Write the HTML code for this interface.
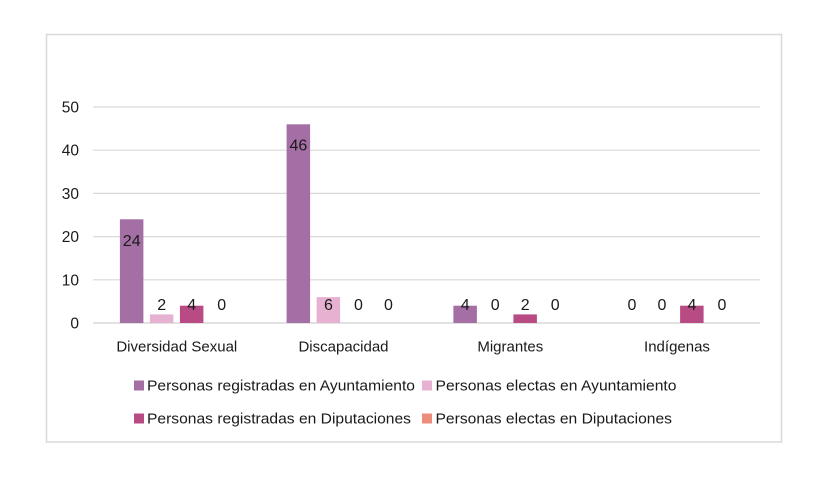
<!DOCTYPE html>
<html>
<head>
<meta charset="utf-8">
<style>
  html, body { margin:0; padding:0; background:#ffffff; }
  body { width:826px; height:493px; overflow:hidden; }
  svg { display:block; }
  text { font-family: "Liberation Sans", "DejaVu Sans", sans-serif; fill:#1a1a1a; }
</style>
</head>
<body>
<svg width="826" height="493" viewBox="0 0 826 493" xmlns="http://www.w3.org/2000/svg">
  <rect x="0" y="0" width="826" height="493" fill="#ffffff"/>
  <!-- chart border -->
  <rect x="46.5" y="34.5" width="735" height="407.5" fill="none" stroke="#d9d9d9" stroke-width="1.5"/>

  <!-- gridlines -->
  <g stroke="#d9d9d9" stroke-width="1.2">
    <line x1="93" y1="107" x2="760" y2="107"/>
    <line x1="93" y1="150.2" x2="760" y2="150.2"/>
    <line x1="93" y1="193.4" x2="760" y2="193.4"/>
    <line x1="93" y1="236.6" x2="760" y2="236.6"/>
    <line x1="93" y1="279.8" x2="760" y2="279.8"/>
    <line x1="93" y1="323" x2="760" y2="323" stroke-width="1.5"/>
  </g>

  <!-- y tick labels -->
  <g font-size="15.5" text-anchor="end">
    <text x="79" y="112.5">50</text>
    <text x="79" y="155.7">40</text>
    <text x="79" y="198.9">30</text>
    <text x="79" y="242.1">20</text>
    <text x="79" y="285.3">10</text>
    <text x="79" y="328.5">0</text>
  </g>

  <!-- bars: Diversidad Sexual (c=176.4) -->
  <rect x="119.9" y="219.3" width="23.5" height="103.7" fill="#a46fa5"/>
  <rect x="149.9" y="314.4" width="23.5" height="8.6" fill="#e7b1d2"/>
  <rect x="179.9" y="305.7" width="23.5" height="17.3" fill="#b84b84"/>
  <!-- Discapacidad (c=343.1) -->
  <rect x="286.6" y="124.3" width="23.5" height="198.7" fill="#a46fa5"/>
  <rect x="316.6" y="297.1" width="23.5" height="25.9" fill="#e7b1d2"/>
  <!-- Migrantes (c=509.9) -->
  <rect x="453.4" y="305.7" width="23.5" height="17.3" fill="#a46fa5"/>
  <rect x="513.4" y="314.4" width="23.5" height="8.6" fill="#b84b84"/>
  <!-- Indigenas (c=676.6) -->
  <rect x="680.1" y="305.7" width="23.5" height="17.3" fill="#b84b84"/>

  <!-- data labels -->
  <g font-size="16" text-anchor="middle">
    <text x="131.7" y="246">24</text>
    <text x="161.7" y="310">2</text>
    <text x="191.7" y="310">4</text>
    <text x="221.7" y="310">0</text>

    <text x="298.4" y="150.5">46</text>
    <text x="328.4" y="310">6</text>
    <text x="358.4" y="310">0</text>
    <text x="388.4" y="310">0</text>

    <text x="465.2" y="310">4</text>
    <text x="495.2" y="310">0</text>
    <text x="525.2" y="310">2</text>
    <text x="555.2" y="310">0</text>

    <text x="631.9" y="310">0</text>
    <text x="661.9" y="310">0</text>
    <text x="691.9" y="310">4</text>
    <text x="721.9" y="310">0</text>
  </g>

  <!-- category labels -->
  <g font-size="15" text-anchor="middle">
    <text x="176.8" y="351.5">Diversidad Sexual</text>
    <text x="343.5" y="351.5">Discapacidad</text>
    <text x="510.3" y="351.5">Migrantes</text>
    <text x="677" y="351.5">Indígenas</text>
  </g>

  <!-- legend -->
  <rect x="134" y="380.5" width="10" height="10" fill="#a46fa5"/>
  <text x="147" y="390.5" font-size="15" textLength="268" lengthAdjust="spacingAndGlyphs">Personas registradas en Ayuntamiento</text>
  <rect x="422" y="380.5" width="10" height="10" fill="#e7b1d2"/>
  <text x="435.5" y="390.5" font-size="15" textLength="241" lengthAdjust="spacingAndGlyphs">Personas electas en Ayuntamiento</text>

  <rect x="134" y="413.5" width="10" height="10" fill="#b84b84"/>
  <text x="147" y="423.5" font-size="15" textLength="264" lengthAdjust="spacingAndGlyphs">Personas registradas en Diputaciones</text>
  <rect x="422" y="413.5" width="10" height="10" fill="#ec8c7a"/>
  <text x="435.5" y="423.5" font-size="15" textLength="236.5" lengthAdjust="spacingAndGlyphs">Personas electas en Diputaciones</text>
</svg>
</body>
</html>
